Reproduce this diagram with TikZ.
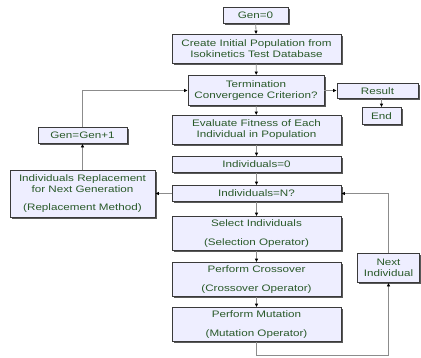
\documentclass[tikz,border=0pt]{standalone}
\usepackage{fontspec}
\setmainfont{Liberation Sans}[FakeStretch=1.24]
\usetikzlibrary{arrows.meta,shadows}
\definecolor{boxfill}{HTML}{EEEEFF}
\definecolor{boxtext}{HTML}{2A5A2A}
\definecolor{linegray}{HTML}{8C8C8C}
\definecolor{boxline}{HTML}{3A3A3A}
\begin{document}
\begin{tikzpicture}[x=1pt,y=-1pt,
  box/.style={draw=boxline,line width=0.7pt,fill=boxfill,text=boxtext,align=center,
    inner sep=0pt,font=\fontsize{9.4}{11}\selectfont,
    drop shadow={shadow xshift=1.6pt,shadow yshift=-1.6pt,fill=black!65,opacity=1}},
  conn/.style={draw=linegray,line width=0.8pt,-{Latex[length=3.5pt,width=3.5pt,color=black]}}
]
\useasboundingbox (0,0) rectangle (421,357);
\fill[white] (0,0) rectangle (421,357);
\node[box,minimum width=65pt,minimum height=16pt] (gen0) at (255.5,15.5) {Gen=0};
\node[box,minimum width=169pt,minimum height=29pt] (create) at (256.5,49) {Create Initial Population from\\Isokinetics Test Database};
\node[box,minimum width=136pt,minimum height=30pt] (term) at (256,90.5) {Termination\\Convergence Criterion?};
\node[box,minimum width=81pt,minimum height=15pt] (result) at (377.5,91) {Result};
\node[box,minimum width=39pt,minimum height=17pt] (end) at (381.5,116) {End};
\node[box,minimum width=169pt,minimum height=29pt] (eval) at (256.5,130) {Evaluate Fitness of Each\\Individual in Population};
\node[box,minimum width=169pt,minimum height=16pt] (ind0) at (256.5,164.5) {Individuals=0};
\node[box,minimum width=169pt,minimum height=16pt] (indN) at (256.5,193.5) {Individuals=N?};
\node[box,minimum width=169pt,minimum height=34pt] (sel) at (256.5,233.5) {Select Individuals\\[8pt](Selection Operator)};
\node[box,minimum width=169pt,minimum height=34pt] (cross) at (256.5,279.5) {Perform Crossover\\[8pt](Crossover Operator)};
\node[box,minimum width=169pt,minimum height=34pt] (mut) at (256.5,324.5) {Perform Mutation\\[8pt](Mutation Operator)};
\node[box,minimum width=89pt,minimum height=16pt] (gen1) at (82.5,135.5) {Gen=Gen+1};
\node[box,minimum width=145pt,minimum height=47pt] (repl) at (82.5,194) {Individuals Replacement\\for Next Generation\\[7pt](Replacement Method)};
\node[box,minimum width=62pt,minimum height=29pt] (next) at (388.5,268) {Next\\Individual};
\coordinate (lb) at (256.5,355);
\draw[conn] (gen0) -- (create);
\draw[conn] (create) -- (term);
\draw[conn] (term) -- (eval);
\draw[conn] (term.east) -- (term.east -| result.west);
\draw[conn] (result.south -| end.north) -- (end.north);
\draw[conn] (eval) -- (ind0);
\draw[conn] (ind0) -- (indN);
\draw[conn] (indN) -- (sel);
\draw[conn] (sel) -- (cross);
\draw[conn] (cross) -- (mut);
\draw[conn] (indN.west) -- (indN.west -| repl.east);
\draw[conn] (repl) -- (gen1);
\draw[conn] (gen1.north) |- (term.west);
\draw[conn] (mut.south) -- (lb) -| (next.south);
\draw[conn] (next.north) |- (indN.east);
\end{tikzpicture}
\end{document}
